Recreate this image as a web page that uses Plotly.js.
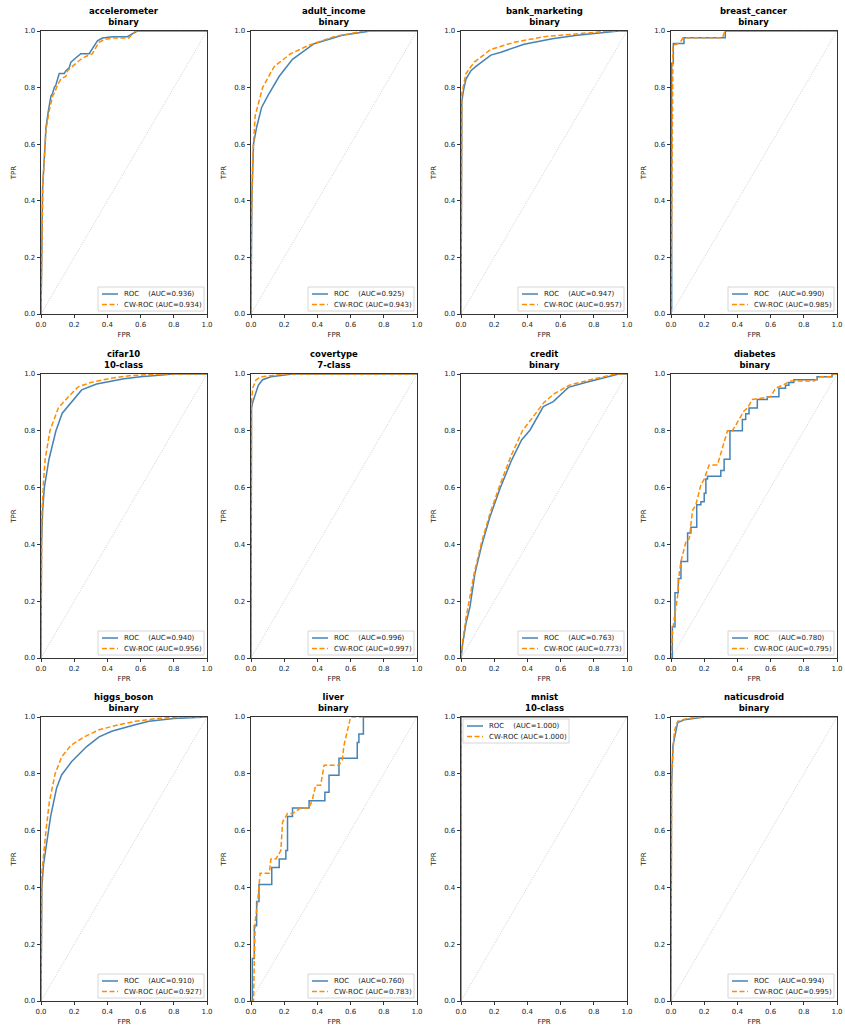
<!DOCTYPE html>
<html>
<head>
<meta charset="utf-8">
<script src="https://cdn.plot.ly/plotly-3.0.1.min.js"></script>
<style>html,body{margin:0;padding:0;background:#fff}#chart{width:845px;height:1030px}</style>
</head>
<body>
<div id="chart"></div>
<script>
// ---- data ----
const datasetNames = ["accelerometer","adult_income","bank_marketing","breast_cancer","cifar10","covertype","credit","diabetes","higgs_boson","liver","mnist","naticusdroid"];
const taskKinds = ["binary","binary","binary","binary","10-class","7-class","binary","binary","binary","binary","10-class","binary"];
const rocAUC = ["0.936","0.925","0.947","0.990","0.940","0.996","0.763","0.780","0.910","0.760","1.000","0.994"];
const cwAUC  = ["0.934","0.943","0.957","0.985","0.956","0.997","0.773","0.795","0.927","0.783","1.000","0.995"];
const seriesLabels = ["ROC\u00a0\u00a0\u00a0\u00a0(AUC=", "CW-ROC (AUC="];
const tickVals = [0, 0.2, 0.4, 0.6, 0.8, 1.0];
const tickText = ["0.0","0.2","0.4","0.6","0.8","1.0"];
const chanceX = [0, 1];
const chanceY = [0, 1];

const accelerometer_roc_fpr = [0,0.005,0.01,0.02,0.03,0.045,0.06,0.07,0.08,0.09,0.1,0.11,0.14,0.15,0.17,0.18,0.2,0.22,0.24,0.29,0.3,0.32,0.34,0.37,0.43,0.52,0.55,0.58,1];
const accelerometer_roc_tpr = [0,0.35,0.45,0.55,0.66,0.72,0.77,0.78,0.8,0.81,0.83,0.85,0.85,0.86,0.87,0.89,0.9,0.91,0.92,0.92,0.93,0.95,0.965,0.975,0.98,0.98,0.99,1,1];
const accelerometer_cw_fpr = [0,0.005,0.01,0.02,0.03,0.05,0.07,0.08,0.1,0.12,0.15,0.16,0.18,0.2,0.24,0.27,0.31,0.33,0.35,0.38,0.43,0.53,0.55,0.57,1];
const accelerometer_cw_tpr = [0,0.38,0.45,0.55,0.65,0.72,0.77,0.78,0.81,0.83,0.84,0.86,0.87,0.88,0.9,0.91,0.92,0.94,0.96,0.97,0.975,0.975,0.99,1,1];

const adult_roc_fpr = [0,0.002,0.005,0.015,0.034,0.064,0.1,0.17,0.25,0.38,0.55,0.72,1];
const adult_roc_tpr = [0,0.25,0.4,0.6,0.66,0.73,0.77,0.84,0.9,0.955,0.985,1,1];
const adult_cw_fpr = [0,0.002,0.01,0.025,0.07,0.14,0.24,0.35,0.5,0.68,1];
const adult_cw_tpr = [0,0.3,0.55,0.7,0.8,0.875,0.92,0.95,0.98,1,1];

const bank_roc_fpr = [0,0.002,0.005,0.015,0.03,0.06,0.09,0.18,0.24,0.38,0.55,0.7,0.95,1];
const bank_roc_tpr = [0,0.5,0.75,0.79,0.83,0.86,0.875,0.915,0.925,0.953,0.973,0.985,1,1];
const bank_cw_fpr = [0,0.002,0.005,0.03,0.08,0.18,0.32,0.5,0.7,0.9,1];
const bank_cw_tpr = [0,0.55,0.78,0.85,0.89,0.935,0.96,0.98,0.99,1,1];

const breast_roc_fpr = [0,0.004,0.004,0.014,0.014,0.078,0.078,0.327,0.327,1];
const breast_roc_tpr = [0,0.02,0.886,0.886,0.956,0.956,0.976,0.976,1,1];
const breast_cw_fpr = [0,0.006,0.012,0.04,0.055,0.072,0.31,0.325,1];
const breast_cw_tpr = [0,0.5,0.95,0.955,0.96,0.976,0.976,1,1];

const cifar_roc_fpr = [0,0.003,0.01,0.02,0.048,0.09,0.128,0.185,0.245,0.335,0.42,0.5,0.6,0.8,1];
const cifar_roc_tpr = [0,0.4,0.52,0.6,0.7,0.8,0.862,0.904,0.944,0.965,0.975,0.983,0.99,1,1];
const cifar_cw_fpr = [0,0.005,0.015,0.025,0.054,0.104,0.165,0.225,0.3,0.42,0.55,0.75,1];
const cifar_cw_tpr = [0,0.5,0.62,0.7,0.8,0.88,0.92,0.955,0.97,0.985,0.995,1,1];

const covertype_roc_fpr = [0,0.003,0.01,0.024,0.044,0.07,0.12,0.25,1];
const covertype_roc_tpr = [0,0.88,0.9,0.925,0.96,0.98,0.99,1,1];
const covertype_cw_fpr = [0,0.003,0.01,0.03,0.06,0.2,1];
const covertype_cw_tpr = [0,0.9,0.95,0.979,0.99,1,1];

const credit_roc_fpr = [0,0.01,0.03,0.054,0.084,0.125,0.175,0.235,0.305,0.365,0.416,0.496,0.556,0.647,0.75,0.85,0.95,1];
const credit_roc_tpr = [0,0.05,0.122,0.18,0.298,0.398,0.498,0.597,0.697,0.768,0.803,0.885,0.903,0.953,0.97,0.985,1,1];
const credit_cw_fpr = [0,0.01,0.03,0.08,0.125,0.175,0.235,0.3,0.37,0.42,0.5,0.56,0.65,0.78,0.85,0.93,1];
const credit_cw_tpr = [0,0.06,0.14,0.3,0.41,0.51,0.61,0.71,0.8,0.84,0.9,0.93,0.96,0.98,0.99,1,1];

const diabetes_roc_fpr = [0,0.008,0.024,0.044,0.06,0.1,0.12,0.155,0.18,0.2,0.21,0.22,0.3,0.32,0.355,0.43,0.45,0.47,0.52,0.58,0.65,0.69,0.71,0.74,0.88,0.97,1];
const diabetes_roc_tpr = [0,0.11,0.23,0.28,0.34,0.44,0.46,0.54,0.55,0.58,0.63,0.64,0.66,0.7,0.8,0.84,0.86,0.88,0.91,0.92,0.95,0.96,0.97,0.98,0.99,1,1];
const diabetes_cw_fpr = [0,0.01,0.04,0.05,0.06,0.09,0.11,0.13,0.15,0.18,0.2,0.23,0.28,0.3,0.34,0.37,0.41,0.44,0.46,0.49,0.6,0.63,0.67,0.72,0.86,0.9,0.97,0.98,1];
const diabetes_cw_tpr = [0,0.1,0.22,0.3,0.34,0.41,0.42,0.52,0.54,0.61,0.63,0.68,0.68,0.72,0.8,0.8,0.84,0.87,0.88,0.91,0.92,0.95,0.96,0.975,0.975,0.99,0.99,1,1];

const higgs_roc_fpr = [0,0.002,0.005,0.015,0.034,0.058,0.094,0.124,0.185,0.275,0.35,0.426,0.55,0.65,0.8,0.95,1];
const higgs_roc_tpr = [0,0.25,0.4,0.48,0.55,0.65,0.75,0.796,0.843,0.896,0.93,0.95,0.97,0.985,0.995,1,1];
const higgs_cw_fpr = [0,0.002,0.005,0.03,0.05,0.085,0.125,0.18,0.26,0.35,0.45,0.57,0.7,0.88,1];
const higgs_cw_tpr = [0,0.3,0.45,0.6,0.7,0.8,0.86,0.9,0.93,0.955,0.97,0.985,0.995,1,1];

const liver_roc_fpr = [0,0.008,0.02,0.034,0.048,0.125,0.17,0.21,0.22,0.25,0.35,0.445,0.47,0.53,0.64,0.65,0.677,1];
const liver_roc_tpr = [0,0.15,0.265,0.35,0.41,0.47,0.5,0.53,0.65,0.68,0.705,0.735,0.795,0.855,0.91,0.94,1,1];
const liver_cw_fpr = [0,0.015,0.025,0.04,0.055,0.11,0.12,0.15,0.18,0.19,0.22,0.25,0.3,0.35,0.37,0.39,0.42,0.44,0.53,0.55,0.56,0.58,0.6,1];
const liver_cw_tpr = [0,0,0.28,0.35,0.45,0.45,0.5,0.5,0.53,0.63,0.66,0.66,0.68,0.68,0.71,0.76,0.76,0.83,0.83,0.85,0.9,0.95,1,1];

const mnist_roc_fpr = [0,0.001,1];
const mnist_roc_tpr = [0,1,1];
const mnist_cw_fpr = [0,0.001,1];
const mnist_cw_tpr = [0,1,1];

const naticus_roc_fpr = [0,0.003,0.012,0.03,0.04,0.08,0.2,1];
const naticus_roc_tpr = [0,0.75,0.9,0.956,0.98,0.99,1,1];
const naticus_cw_fpr = [0,0.004,0.02,0.04,0.1,0.2,1];
const naticus_cw_tpr = [0,0.8,0.95,0.985,0.995,1,1];

const rocFpr = [accelerometer_roc_fpr, adult_roc_fpr, bank_roc_fpr, breast_roc_fpr, cifar_roc_fpr, covertype_roc_fpr, credit_roc_fpr, diabetes_roc_fpr, higgs_roc_fpr, liver_roc_fpr, mnist_roc_fpr, naticus_roc_fpr];
const rocTpr = [accelerometer_roc_tpr, adult_roc_tpr, bank_roc_tpr, breast_roc_tpr, cifar_roc_tpr, covertype_roc_tpr, credit_roc_tpr, diabetes_roc_tpr, higgs_roc_tpr, liver_roc_tpr, mnist_roc_tpr, naticus_roc_tpr];
const cwFpr = [accelerometer_cw_fpr, adult_cw_fpr, bank_cw_fpr, breast_cw_fpr, cifar_cw_fpr, covertype_cw_fpr, credit_cw_fpr, diabetes_cw_fpr, higgs_cw_fpr, liver_cw_fpr, mnist_cw_fpr, naticus_cw_fpr];
const cwTpr = [accelerometer_cw_tpr, adult_cw_tpr, bank_cw_tpr, breast_cw_tpr, cifar_cw_tpr, covertype_cw_tpr, credit_cw_tpr, diabetes_cw_tpr, higgs_cw_tpr, liver_cw_tpr, mnist_cw_tpr, naticus_cw_tpr];
const stepShape = [false,false,false,false,false,false,false,true,false,true,false,false];

// ---- layout geometry (pixels) ----
const W = 845, H = 1030;
const colPx = [[41,207],[251,417],[461,627],[671,837]];
const rowPx = [[31,314],[374,658],[717,1001]];
const legW = 106, legH = 24;

const font = "DejaVu Sans, sans-serif";
const blue = "#4682b4", orange = "#ff8c00";
const traces = [];
const layout = {
  width: W, height: H,
  margin: {l:0, r:0, t:0, b:0},
  paper_bgcolor: "#fff", plot_bgcolor: "#fff",
  font: {family: font, size: 7, color: "#000"},
  annotations: [], shapes: [],
  showlegend: false
};
const px = v => v / W;
const py = v => 1 - v / H;

for (let i = 0; i < 12; i++) {
  const r = Math.floor(i / 4), c = i % 4;
  const xd = [colPx[c][0] / W, colPx[c][1] / W];
  const yd = [1 - rowPx[r][1] / H, 1 - rowPx[r][0] / H];
  const sfx = i === 0 ? "" : String(i + 1);
  const xa = "x" + sfx, ya = "y" + sfx;
  const axCommon = {
    range: [0, 1], showgrid: false, zeroline: false,
    showline: true, mirror: true, linecolor: "#000", linewidth: 0.8,
    ticks: "outside", ticklen: 3.5, tickwidth: 0.8, tickcolor: "#000",
    tickvals: tickVals, ticktext: tickText,
    tickfont: {family: font, size: 7, color: "#222"}
  };
  layout["xaxis" + sfx] = Object.assign({}, axCommon, {
    domain: xd, anchor: ya,
    title: {text: "FPR", font: {family: font, size: 7, color: "#222"}, standoff: 4}
  });
  layout["yaxis" + sfx] = Object.assign({}, axCommon, {
    domain: yd, anchor: xa,
    title: {text: "TPR", font: {family: font, size: 7, color: "#222"}, standoff: 6}
  });
  layout.annotations.push({
    xref: "paper", yref: "paper", x: (xd[0] + xd[1]) / 2, y: yd[1],
    xanchor: "center", yanchor: "bottom", yshift: 2, showarrow: false,
    text: "<b>" + datasetNames[i] + "</b><br><b>" + taskKinds[i] + "</b>",
    font: {family: font, size: 8.5, color: "#000"}
  });

  // legend box (matplotlib-style, compact)
  const topLeft = datasetNames[i] === "mnist";
  const bx0 = topLeft ? colPx[c][0] + 2 : colPx[c][1] - 3 - legW;
  const by0 = topLeft ? rowPx[r][0] + 2 : rowPx[r][1] - 3 - legH;
  layout.shapes.push({
    type: "rect", xref: "paper", yref: "paper", layer: "above",
    x0: px(bx0), x1: px(bx0 + legW), y0: py(by0), y1: py(by0 + legH),
    fillcolor: "rgba(255,255,255,0.85)", line: {color: "#cccccc", width: 0.8}
  });
  const labels = [seriesLabels[0] + rocAUC[i] + ")", seriesLabels[1] + cwAUC[i] + ")"];
  const cols = [blue, orange];
  const dashes = ["solid", "5px,2.5px"];
  for (let k = 0; k < 2; k++) {
    const yy = by0 + 7 + k * 10.5;
    layout.shapes.push({
      type: "line", xref: "paper", yref: "paper", layer: "above",
      x0: px(bx0 + 4), x1: px(bx0 + 20), y0: py(yy), y1: py(yy),
      line: {color: cols[k], width: 1.5, dash: dashes[k]}
    });
    layout.annotations.push({
      xref: "paper", yref: "paper", x: px(bx0 + 24), y: py(yy),
      xanchor: "left", yanchor: "middle", showarrow: false,
      text: labels[k], font: {family: font, size: 7, color: "#222"}
    });
  }

  traces.push({
    x: chanceX, y: chanceY, xaxis: xa, yaxis: ya, mode: "lines",
    line: {color: "#aaaaaa", width: 0.6, dash: "1px,1.5px"}, showlegend: false, hoverinfo: "skip"
  });
  traces.push({
    x: rocFpr[i], y: rocTpr[i], xaxis: xa, yaxis: ya, mode: "lines",
    name: labels[0],
    line: {color: blue, width: 1.5, shape: stepShape[i] ? "hv" : "linear"}
  });
  traces.push({
    x: cwFpr[i], y: cwTpr[i], xaxis: xa, yaxis: ya, mode: "lines",
    name: labels[1],
    line: {color: orange, width: 1.5, dash: "5px,2.5px"}
  });
}

Plotly.newPlot("chart", traces, layout, {displayModeBar: false, staticPlot: true});
</script>
</body>
</html>
